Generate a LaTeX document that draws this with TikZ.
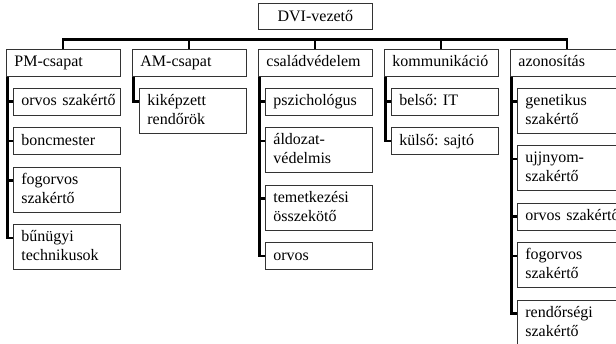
\documentclass[tikz,border=0pt]{standalone}
\usepackage{fontspec}
\setmainfont{Liberation Serif}
\frenchspacing
\begin{document}
\begin{tikzpicture}[x=1pt,y=-1pt,
  box/.style={draw=black!80, line width=0.8pt, anchor=north west,
    inner xsep=0pt, inner ysep=0pt, align=left,
    font=\fontsize{16}{19}\selectfont\frenchspacing,
    execute at begin node={\leftskip=8.5pt\strut},
    execute at end node={\strut}},
  top/.style={box, text width=114pt, minimum height=27pt},
  sone/.style={box, text width=107pt, minimum height=27pt},
  stwo/.style={box, text width=107pt, minimum height=45pt},
  chief/.style={draw=black!80, line width=0.8pt, anchor=north west,
    inner sep=0pt, minimum width=114pt, minimum height=26pt,
    font=\fontsize{16}{19}\selectfont},
  conn/.style={draw=black, line width=2.2pt}]
\useasboundingbox (0,0) rectangle (616,344);
\clip (0,0) rectangle (616,344);
\fill[white] (0,0) rectangle (616,344);

% chief
\node[chief] (dvi) at (258,3) {DVI-vezető};

% top level
\node[top] (pm)  at (5.5,49)   {PM-csapat};
\node[top] (am)  at (131.5,49) {AM-csapat};
\node[top] (cv)  at (257.5,49) {családvédelem};
\node[top] (kom) at (383.5,49) {kommunikáció};
\node[top] (az)  at (509.5,49) {azonosítás};

% PM
\node[sone] (pm1) at (12.5,88)    {orvos szakértő};
\node[sone] (pm2) at (12.5,127.5) {boncmester};
\node[stwo] (pm3) at (12.5,167)   {fogorvos\\szakértő};
\node[stwo] (pm4) at (12.5,224.5) {bűnügyi\\technikusok};
% AM
\node[stwo] (am1) at (138.5,88)   {kiképzett\\rendőrök};
% CV
\node[sone] (cv1) at (264.5,88)    {pszichológus};
\node[stwo] (cv2) at (264.5,127.5) {áldozat-\\védelmis};
\node[stwo] (cv3) at (264.5,185)   {temetkezési\\összekötő};
\node[sone] (cv4) at (264.5,242.5) {orvos};
% KOM
\node[sone] (kom1) at (390.5,88)    {belső: IT};
\node[sone] (kom2) at (390.5,127.5) {külső: sajtó};
% AZ
\node[stwo] (az1) at (516.5,88)    {genetikus\\szakértő};
\node[stwo] (az2) at (516.5,145.5) {ujjnyom-\\szakértő};
\node[sone] (az3) at (516.5,203)   {orvos szakértő};
\node[stwo] (az4) at (516.5,242.5) {fogorvos\\szakértő};
\node[stwo] (az5) at (516.5,300)   {rendőrségi\\szakértő};

% bus
\coordinate (bus) at (0,39.5);
\draw[conn] (pm.north) -- (pm.north |- bus) -- (az.north |- bus) -- (az.north);
\foreach \t in {am,cv,kom}
  \draw[conn] (\t.north) -- (\t.north |- bus);

% vertical spines and ticks
\foreach \t/\subs in {pm/{pm1,pm2,pm3,pm4}, am/{am1}, cv/{cv1,cv2,cv3,cv4},
                      kom/{kom1,kom2}, az/{az1,az2,az3,az4,az5}} {
  \coordinate (\t v) at ([xshift=2pt]\t.south west);
  \foreach \s in \subs {
    \coordinate (\s t) at ([yshift=-13.5pt]\s.north west);
    \draw[conn] (\t v) |- (\s t);
  }
}
\end{tikzpicture}
\end{document}
